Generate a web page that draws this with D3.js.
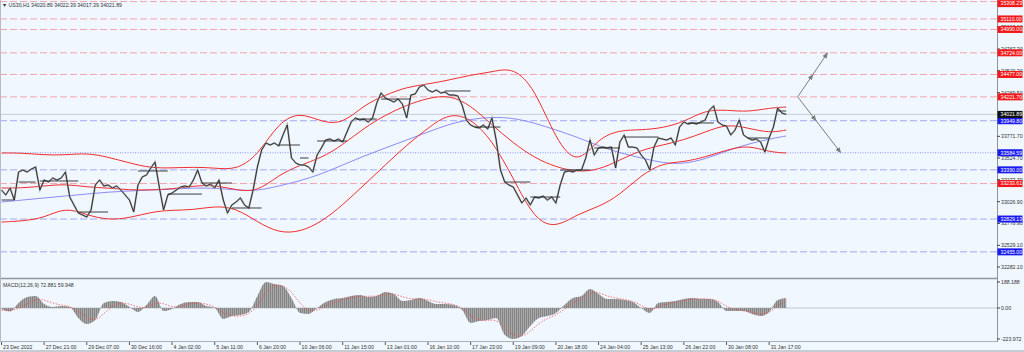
<!DOCTYPE html>
<html>
<head>
<meta charset="utf-8">
<script src="https://cdn.jsdelivr.net/npm/d3@7"></script>
<style>
body { margin: 0; background: #f0f7ff; }
svg { display: block; font-family: "Liberation Sans", Arial, sans-serif; }
</style>
</head>
<body>
<svg width="1024" height="352"></svg>
<script>
// time labels, one every 10 steps
var timeLabels = ["23 Dec 2022","27 Dec 21:00","29 Dec 07:00","30 Dec 16:00","4 Jan 02:00","5 Jan 11:00","6 Jan 20:00","10 Jan 06:00","11 Jan 15:00","13 Jan 01:00","16 Jan 10:00","17 Jan 23:00","19 Jan 09:00","20 Jan 18:00","24 Jan 04:00","25 Jan 13:00","26 Jan 22:00","30 Jan 08:00","31 Jan 17:00"];

// US30 H1 price path, one value per step
var closes = [33160,33103,33183,33046,33365,33388,33365,33399,33422,33160,
  33274,33251,33297,33274,33297,33365,33080,32989,32898,32875,
  32852,32932,33217,33274,33206,33217,33183,33206,33160,33103,
  33046,32909,33217,33308,33331,33411,33479,33194,32932,33103,
  33126,33160,33194,33206,33194,33274,33388,33240,33206,33228,
  33183,33274,33046,32898,32989,33023,33069,32989,32955,33160,
  33422,33616,33696,33673,33696,33662,33787,33901,33525,33468,
  33445,33445,33422,33365,33559,33639,33730,33741,33719,33741,
  33707,33821,33935,33981,33958,33969,33935,33981,34152,34266,
  34209,34186,34163,34197,34140,33981,34243,34254,34334,34357,
  34300,34277,34300,34266,34277,34243,34243,34232,34129,33958,
  33901,33878,33867,33901,33855,33981,33730,33388,33251,33217,
  33194,33103,33012,33069,32989,33080,33069,33092,33046,33080,
  33012,33217,33365,33377,33365,33388,33388,33525,33730,33559,
  33639,33650,33639,33650,33411,33707,33787,33650,33650,33639,
  33559,33502,33388,33650,33753,33741,33730,33753,33673,33878,
  33935,33912,33924,33912,33935,33958,34072,34118,33935,33901,
  33890,33787,33844,33958,33787,33753,33730,33741,33707,33593,
  33753,33878,34095,34038,34021.89];

// bollinger bands and moving average, one value every 5 steps (last at step 184)
var bandUpper = [33582,33582,33559,33559,33582,33536,33468,33411,33411,33422,33411,33388,33548,33935,34049,33935,33912,34129,34243,34334,34368,34414,34471,34505,34562,34323,33730,33434,33753,33844,33844,33867,33935,34072,34072,34049,34095,34106];
var bandMiddle = [33183,33183,33206,33228,33194,33183,33160,33160,33171,33206,33217,33160,33137,33331,33445,33525,33673,33867,34015,34129,34209,34243,34129,33901,33696,33525,33422,33365,33388,33502,33616,33673,33730,33821,33912,33867,33810,33844];
var bandLower = [32795,32807,32841,32966,32875,32818,32841,32909,32932,32932,32978,32955,32795,32670,32681,32795,32989,33217,33445,33673,33867,34038,33981,33730,33297,32818,32727,32886,32966,33103,33331,33468,33479,33536,33616,33673,33593,33582];
var slowMA = [33023,33046,33069,33092,33114,33137,33149,33160,33171,33183,33183,33160,33149,33206,33263,33342,33445,33548,33639,33730,33821,33912,33969,33992,33981,33924,33844,33764,33662,33582,33525,33468,33456,33513,33605,33684,33741,33776];

// MACD(12,26,9), one value every 2 steps
var macdMain = [-7,-25,36,79,87,29,7,14,7,-72,-116,-87,36,51,43,7,-29,22,87,-22,-7,29,43,43,14,0,-79,-58,-51,-29,87,188,173,159,72,-36,-43,0,43,65,72,87,94,79,87,116,101,51,58,72,51,29,29,22,-14,-108,-94,-87,-72,-195,-224,-202,-130,-72,-58,-36,22,72,87,137,101,65,65,58,43,0,-36,36,43,51,65,72,65,65,43,-22,-22,-22,-43,-58,-29,58,72.881];
var macdSignal = [-15,-20,-5,30,65,60,35,20,12,-20,-75,-95,-40,15,40,30,5,0,40,35,5,10,30,40,30,10,-35,-60,-60,-45,10,120,170,165,120,30,-20,-20,15,45,62,75,85,85,85,100,105,80,65,66,62,45,35,27,5,-60,-90,-90,-82,-140,-200,-210,-170,-110,-75,-50,-10,40,70,110,115,85,72,63,50,20,-15,5,30,42,55,65,68,66,55,10,-12,-20,-32,-48,-38,20,59.948];

// session open lines: [first step, last step, price]
var sessionLines = [[0,3,33046],[4,8,33251],[9,18,33263],[18,25,32909],[32,39,33377],[39,47,33114],[47,54,33240],[54,61,32955],[65,70,33673],[70,72,33525],[74,81,33719],[83,88,33969],[89,96,34197],[104,110,34289],[111,117,33878],[118,124,33251],[124,131,33080],[131,138,33388],[139,145,33639],[146,154,33764],[161,167,33924],[175,180,33753],[182,184,34061]];

var resistLevels = [35308.23, 35110.00, 34990.00, 34724.00, 34477.00, 34221.70, 33233.61];
var supportLevels = [33949.80, 33390.00, 32829.13, 32455.00];
var pivotLevel = 33584.59;
var lastPrice = 34021.89;
var priceTicks = [35266.90, 35018.10, 34767.30, 34520.30, 34269.50, 33771.70, 33524.70, 33277.70, 33026.90, 32778.90, 32529.10, 32282.10];
var macdTicks = [188.188, 0, -223.972];

// projection arrows from the last level
var arrowFrom = [186.7, 34221.70];
var arrowTo = [[193.7, 34724.00], [196.8, 33584.59]];
var arrowMid = [34477.00, 33949.80];

var svg = d3.select("svg"),
    width = +svg.attr("width"),
    height = +svg.attr("height"),
    axisX = 997, mainBottom = 278, macdTop = 280, macdBottom = 341;

var x = d3.scaleLinear().domain([0, 184]).range([1.5, 786.2]);
var y = d3.scaleLinear().domain([32157, 35326]).range([mainBottom, 0]);
var ym = d3.scaleLinear().domain([-238.6, 202.5]).range([macdBottom, macdTop]);

var bandSteps = d3.range(0, 181, 5).concat([184]);
var macdSteps = d3.range(0, 185, 2);

var defs = svg.append("defs");
defs.append("clipPath").attr("id", "mainClip")
  .append("rect").attr("x", 0).attr("y", 0).attr("width", axisX).attr("height", mainBottom);
defs.append("clipPath").attr("id", "macdClip")
  .append("rect").attr("x", 0).attr("y", macdTop).attr("width", axisX).attr("height", macdBottom - macdTop);
var pat = defs.append("pattern").attr("id", "hist")
  .attr("patternUnits", "userSpaceOnUse").attr("width", 2).attr("height", 4);
pat.append("rect").attr("width", 2).attr("height", 4).attr("fill", "#a9a9a9");
pat.append("rect").attr("width", 1).attr("height", 4).attr("fill", "#848484");
defs.append("marker").attr("id", "head")
  .attr("viewBox", "0 0 10 10").attr("refX", 9).attr("refY", 5)
  .attr("markerWidth", 6).attr("markerHeight", 6)
  .attr("markerUnits", "userSpaceOnUse").attr("orient", "auto")
  .append("path").attr("d", "M0,1L10,5L0,9z").attr("fill", "#7d7d7d");

svg.append("rect").attr("width", width).attr("height", height).attr("fill", "#f0f7ff");

var main = svg.append("g").attr("clip-path", "url(#mainClip)");

// horizontal levels
main.selectAll(".res").data(resistLevels).enter().append("line")
  .attr("x1", 0).attr("x2", axisX)
  .attr("y1", function(d) { return y(d); }).attr("y2", function(d) { return y(d); })
  .attr("stroke", "#f2a4ab").attr("stroke-width", 1).attr("stroke-dasharray", "7,3");
main.selectAll(".sup").data(supportLevels).enter().append("line")
  .attr("x1", 0).attr("x2", axisX)
  .attr("y1", function(d) { return y(d); }).attr("y2", function(d) { return y(d); })
  .attr("stroke", "#a3a9f4").attr("stroke-width", 1).attr("stroke-dasharray", "7,3");
main.append("line").attr("x1", 0).attr("x2", axisX)
  .attr("y1", y(pivotLevel)).attr("y2", y(pivotLevel))
  .attr("stroke", "#8c92f0").attr("stroke-dasharray", "1,1.5");
main.append("line").attr("x1", 0).attr("x2", axisX)
  .attr("y1", y(lastPrice)).attr("y2", y(lastPrice))
  .attr("stroke", "#c9cdd3");

// moving average and bands
var bandLine = d3.line()
  .x(function(d, i) { return x(bandSteps[i]); })
  .y(function(d) { return y(d); })
  .curve(d3.curveBasis);
main.append("path").attr("d", bandLine(slowMA))
  .attr("fill", "none").attr("stroke", "#8a8cf5").attr("stroke-width", 1);
[bandUpper, bandMiddle, bandLower].forEach(function(b) {
  main.append("path").attr("d", bandLine(b))
    .attr("fill", "none").attr("stroke", "#f22c2c").attr("stroke-width", 1);
});

// price
var priceLine = d3.line()
  .x(function(d, i) { return x(i); })
  .y(function(d) { return y(d); });
main.append("path").attr("d", priceLine(closes))
  .attr("fill", "none").attr("stroke", "#a8a8a8").attr("stroke-width", 1.8);
main.append("path").attr("d", priceLine(closes))
  .attr("fill", "none").attr("stroke", "#262626").attr("stroke-width", 0.9);

main.selectAll(".sess").data(sessionLines).enter().append("line")
  .attr("x1", function(d) { return x(d[0]); }).attr("x2", function(d) { return x(d[1]); })
  .attr("y1", function(d) { return y(d[2]); }).attr("y2", function(d) { return y(d[2]); })
  .attr("stroke", "#2a2a2a").attr("stroke-width", 0.9);

// arrows
arrowTo.forEach(function(t, i) {
  var k = (arrowMid[i] - arrowFrom[1]) / (t[1] - arrowFrom[1]);
  var mid = [arrowFrom[0] + k * (t[0] - arrowFrom[0]), arrowMid[i]];
  main.append("path")
    .attr("d", d3.line().x(function(d) { return x(d[0]); }).y(function(d) { return y(d[1]); })([arrowFrom, mid, t]))
    .attr("fill", "none").attr("stroke", "#7d7d7d").attr("stroke-width", 1)
    .attr("marker-mid", "url(#head)").attr("marker-end", "url(#head)");
});

// MACD panel
var macd = svg.append("g").attr("clip-path", "url(#macdClip)");
macd.append("line").attr("x1", 0).attr("x2", axisX).attr("y1", ym(0)).attr("y2", ym(0))
  .attr("stroke", "#c3c9d2");
macd.append("path")
  .attr("d", d3.area()
    .x(function(d, i) { return x(macdSteps[i]); })
    .y0(ym(0)).y1(function(d) { return ym(d); })
    .curve(d3.curveMonotoneX)(macdMain))
  .attr("fill", "url(#hist)");
macd.append("path")
  .attr("d", d3.line()
    .x(function(d, i) { return x(macdSteps[i]); })
    .y(function(d) { return ym(d); })
    .curve(d3.curveBasis)(macdSignal))
  .attr("fill", "none").attr("stroke", "#f05050").attr("stroke-width", 0.8)
  .attr("stroke-dasharray", "1.5,1.5");

// frame
svg.append("line").attr("x1", 0).attr("x2", axisX).attr("y1", mainBottom + 0.5).attr("y2", mainBottom + 0.5)
  .attr("stroke", "#8d949c").attr("stroke-width", 1.5);
svg.append("line").attr("x1", 0).attr("x2", axisX).attr("y1", macdBottom + 0.5).attr("y2", macdBottom + 0.5)
  .attr("stroke", "#a9b0b8");
svg.append("line").attr("x1", axisX + 0.5).attr("x2", axisX + 0.5).attr("y1", 0).attr("y2", macdBottom + 1)
  .attr("stroke", "#8d949c");
svg.append("line").attr("x1", 0.5).attr("x2", 0.5).attr("y1", 0).attr("y2", macdBottom + 1)
  .attr("stroke", "#b5bcc4");
svg.append("line").attr("x1", 0).attr("x2", width).attr("y1", height - 1).attr("y2", height - 1)
  .attr("stroke", "#9aa1a9");

// price axis
var ax = svg.append("g").attr("font-size", 5.2);
ax.selectAll(".tk").data(priceTicks).enter().append("g")
  .attr("transform", function(d) { return "translate(" + axisX + "," + y(d) + ")"; })
  .each(function(d) {
    var g = d3.select(this);
    g.append("line").attr("x1", 0).attr("x2", 3).attr("stroke", "#444");
    g.append("text").attr("x", 4).attr("dy", "0.35em").attr("fill", "#333").text(d.toFixed(2));
  });

function tag(v, bg) {
  var ty = Math.max(3.6, y(v));
  var g = ax.append("g").attr("transform", "translate(" + axisX + "," + ty + ")");
  g.append("rect").attr("x", 0.5).attr("y", -3.5).attr("width", 25).attr("height", 7).attr("fill", bg);
  g.append("text").attr("x", 3.5).attr("dy", "0.35em").attr("fill", "#fff").text(v.toFixed(2));
}
resistLevels.forEach(function(v) { tag(v, "#f21818"); });
supportLevels.concat([pivotLevel]).forEach(function(v) { tag(v, "#1a1af0"); });
tag(lastPrice, "#111");

ax.selectAll(".mt").data(macdTicks).enter().append("g")
  .attr("transform", function(d) { return "translate(" + axisX + "," + ym(d) + ")"; })
  .each(function(d) {
    var g = d3.select(this);
    g.append("line").attr("x1", 0).attr("x2", 3).attr("stroke", "#444");
    g.append("text").attr("x", 4).attr("dy", "0.35em").attr("fill", "#333")
      .text(d === 0 ? "0.00" : d.toFixed(3));
  });

// time axis
var tx = svg.append("g").attr("font-size", 5.2);
tx.selectAll(".t").data(timeLabels).enter().append("g")
  .attr("transform", function(d, i) { return "translate(" + x(i * 10) + "," + macdBottom + ")"; })
  .each(function(d) {
    var g = d3.select(this);
    g.append("line").attr("y1", 1).attr("y2", 4).attr("stroke", "#555");
    g.append("text").attr("x", 1.5).attr("y", 7.5).attr("fill", "#333").text(d);
  });

// captions
svg.append("text").attr("x", 2).attr("y", 6.5).attr("font-size", 5.2).attr("fill", "#333")
  .text("\u25BC US30,H1  34020.89 34022.39 34017.39 34021.89");
svg.append("text").attr("x", 3).attr("y", 287).attr("font-size", 5.2).attr("fill", "#333")
  .text("MACD(12,26,9) " + macdMain[macdMain.length - 1].toFixed(3) + " " + macdSignal[macdSignal.length - 1].toFixed(3));
</script>
</body>
</html>
